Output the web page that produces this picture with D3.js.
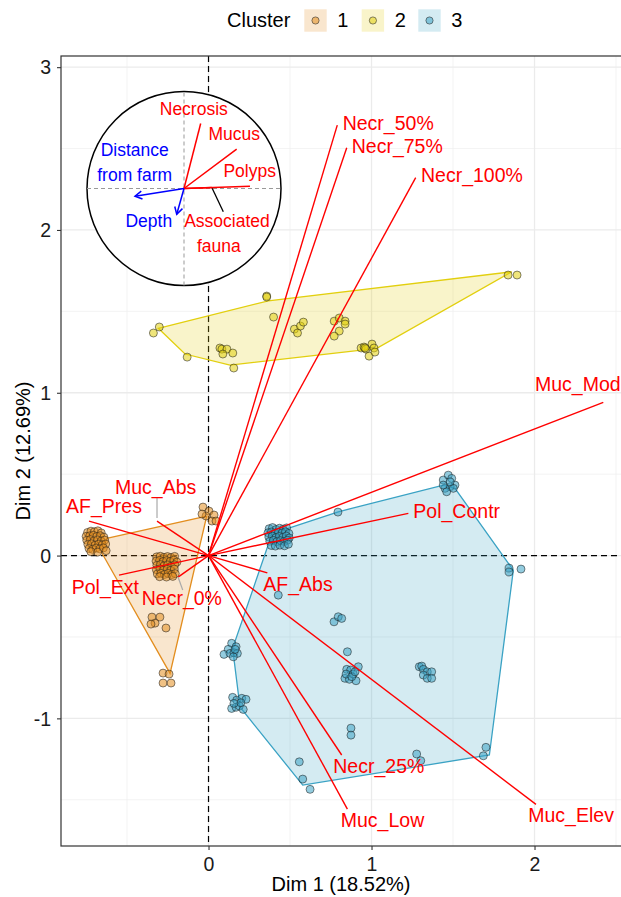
<!DOCTYPE html>
<html>
<head>
<meta charset="utf-8">
<script src="https://cdn.jsdelivr.net/npm/d3@7"></script>
<style>
  body { margin: 0; background: #fff; }
  svg { display: block; }
  text { font-family: "Liberation Sans", Arial, Helvetica, sans-serif; }
</style>
</head>
<body>
<svg id="chart" width="621" height="897"></svg>
<script>
// ---------- data ----------
const clusterIds = ["1", "2", "3"];
const clusterColors = ["#E38E1F", "#E2CF0E", "#3AA2C4"];

// site scores on Dim 1 / Dim 2 (jittered), per cluster
const cluster1Points = [
  [-0.742,0.142],[-0.721,0.150],[-0.700,0.146],[-0.679,0.152],[-0.658,0.139],
  [-0.751,0.118],[-0.729,0.121],[-0.707,0.125],[-0.686,0.117],[-0.664,0.122],[-0.642,0.113],
  [-0.747,0.094],[-0.725,0.098],[-0.703,0.090],[-0.681,0.096],[-0.659,0.089],[-0.637,0.095],
  [-0.740,0.068],[-0.718,0.072],[-0.696,0.064],[-0.674,0.070],[-0.652,0.066],[-0.631,0.071],
  [-0.733,0.043],[-0.711,0.038],[-0.689,0.046],[-0.667,0.041],[-0.645,0.047],
  [-0.722,0.024],[-0.680,0.021],[-0.628,0.030],
  [-0.318,-0.008],[-0.296,-0.004],[-0.274,-0.011],[-0.252,-0.006],[-0.230,-0.012],[-0.208,-0.005],
  [-0.322,-0.034],[-0.300,-0.029],[-0.279,-0.037],[-0.257,-0.031],[-0.235,-0.036],[-0.213,-0.028],[-0.194,-0.040],
  [-0.317,-0.060],[-0.295,-0.056],[-0.273,-0.063],[-0.251,-0.058],[-0.229,-0.065],[-0.207,-0.057],
  [-0.320,-0.087],[-0.298,-0.082],[-0.276,-0.090],[-0.254,-0.084],[-0.232,-0.091],[-0.210,-0.083],
  [-0.314,-0.113],[-0.292,-0.109],[-0.270,-0.116],[-0.248,-0.110],[-0.226,-0.117],[-0.204,-0.111],
  [-0.300,-0.130],[-0.258,-0.132],[-0.219,-0.128],
  [-0.034,0.298],[0.003,0.273],[0.034,0.249],[-0.015,0.243],[0.021,0.212],[0.046,0.212],[-0.040,0.255],
  [-0.347,-0.378],[-0.298,-0.378],[-0.328,-0.415],[-0.353,-0.421],[-0.261,-0.445],
  [-0.279,-0.722],[-0.242,-0.728],[-0.279,-0.783],[-0.230,-0.783]
];
const cluster2Points = [
  [-0.338,1.367],[-0.302,1.404],[-0.131,1.219],
  [0.070,1.275],[0.082,1.268],[0.113,1.268],[0.088,1.238],[0.149,1.244],[0.155,1.152],
  [0.357,1.594],[0.357,1.588],[0.399,1.465],
  [0.527,1.391],[0.546,1.367],[0.564,1.410],[0.582,1.434],
  [0.771,1.440],[0.802,1.459],[0.838,1.440],[0.838,1.422],[0.802,1.379],[0.771,1.348],
  [0.936,1.275],[0.954,1.281],[0.966,1.268],[0.985,1.225],[1.003,1.299],[1.015,1.275],[1.021,1.250],[0.960,1.275],
  [1.838,1.723],[1.893,1.723]
];
const cluster3Points = [
  [0.372,0.165],[0.393,0.172],[0.415,0.160],[0.436,0.168],[0.458,0.162],[0.479,0.170],
  [0.365,0.140],[0.386,0.145],[0.408,0.137],[0.429,0.143],[0.451,0.139],[0.472,0.146],[0.493,0.136],
  [0.370,0.114],[0.391,0.119],[0.413,0.110],[0.434,0.117],[0.456,0.112],[0.477,0.120],[0.495,0.108],
  [0.376,0.088],[0.398,0.093],[0.419,0.085],[0.441,0.091],[0.462,0.086],[0.484,0.094],
  [0.385,0.062],[0.410,0.058],[0.438,0.064],[0.466,0.060],[0.490,0.070],
  [0.794,0.267],
  [1.440,0.464],[1.471,0.494],[1.492,0.474],[1.512,0.433],[1.482,0.423],
  [1.451,0.413],[1.461,0.392],[1.502,0.413],[1.440,0.433],[1.482,0.453],
  [1.844,-0.077],[1.844,-0.101],[1.917,-0.083],
  [0.428,-0.243],
  [0.770,-0.407],[0.796,-0.376],[0.817,-0.386],
  [0.852,-0.591],
  [0.848,-0.699],[0.872,-0.703],[0.919,-0.683],[0.837,-0.754],[0.864,-0.760],
  [0.905,-0.769],[0.844,-0.728],[0.888,-0.728],[0.879,-0.744],[0.899,-0.714],
  [1.293,-0.683],[1.308,-0.679],[1.318,-0.699],[1.342,-0.714],[1.369,-0.714],
  [1.318,-0.734],[1.342,-0.754],[1.369,-0.754],
  [0.142,-0.539],[0.169,-0.560],[0.121,-0.576],[0.095,-0.607],[0.132,-0.601],
  [0.156,-0.597],[0.177,-0.601],[0.152,-0.622],[0.163,-0.576],
  [0.148,-0.871],[0.173,-0.888],[0.204,-0.877],[0.230,-0.883],[0.142,-0.939],
  [0.169,-0.932],[0.189,-0.924],[0.213,-0.945],[0.198,-0.904],[0.156,-0.908],
  [0.874,-1.060],[0.874,-1.103],
  [0.557,-1.267],[0.578,-1.373],[0.623,-1.436],
  [1.277,-1.219],[1.302,-1.260],
  [1.702,-1.178],[1.686,-1.230]
];

// convex hulls of the (unjittered) cluster scores
const cluster1Hull = [[-0.625,0.106],[-0.011,0.243],[-0.236,-0.724],[-0.655,0.017]];
const cluster2Hull = [[-0.308,1.396],[0.367,1.565],[1.860,1.743],[1.032,1.273],[0.132,1.170],[-0.144,1.238]];
const cluster3Hull = [[0.390,0.135],[0.796,0.269],[1.441,0.433],[1.512,0.413],[1.870,-0.090],
                      [1.723,-1.225],[0.578,-1.410],[0.193,-0.930],[0.148,-0.570]];

// variable coordinates (arrows from the origin)
const varNames = ["Necr_0%","Necr_25%","Necr_50%","Necr_75%","Necr_100%",
                  "Muc_Abs","Muc_Low","Muc_Mod","Muc_Elev",
                  "Pol_Ext","Pol_Contr","AF_Abs","AF_Pres"];
const varDim1 = [-0.187, 0.817, 0.790, 0.848, 1.271, -0.316, 0.852, 2.422, 2.009, -0.549, 1.226, 0.361, -0.733];
const varDim2 = [-0.132, -1.225, 2.644, 2.505, 2.321, 0.212, -1.557, 0.941, -1.528, -0.120, 0.259, -0.106, 0.212];

// correlation circle of the grouped descriptors
const insetNames = ["Necrosis","Mucus","Polyps","Associated fauna","Distance from farm","Depth"];
const insetDim1 = [0.172, 0.543, 0.680, 0.286, -0.505, -0.075];
const insetDim2 = [0.670, 0.405, 0.024, 0.010, -0.079, -0.265];
const insetRole = ["response","response","response","response","explanatory","explanatory"];

const xTicks = [0, 1, 2];
const yTicks = [-1, 0, 1, 2, 3];
const xMinor = [-0.5, 0.5, 1.5, 2.5];
const yMinor = [-1.5, -0.5, 0.5, 1.5, 2.5];
const xTitle = "Dim 1 (18.52%)";
const yTitle = "Dim 2 (12.69%)";
const legendTitle = "Cluster";

// ---------- layout ----------
const panel = { left: 61, right: 622, top: 56, bottom: 846 };
const red = "#FF0000", blue = "#0000FF";
const labelSize = 19.5, insetLabelSize = 17.5, tickSize = 19.5, titleSize = 20;
const pointRadius = 4;

// label placement (pixel offset of text start/baseline from the arrow tip) and optional leader
const varLabelLayout = {
  "Necr_0%":   { dx: -36.3, dy: 28,   seg: [4.7, 13] },
  "Necr_25%":  { dx: -8.4,  dy: 18.3 },
  "Necr_50%":  { dx: 5.4,   dy: 4.5 },
  "Necr_75%":  { dx: 5,     dy: 5 },
  "Necr_100%": { dx: 5.3,   dy: 4.6 },
  "Muc_Abs":   { dx: -42,   dy: -27,  seg: [0, -24] },
  "Muc_Low":   { dx: -6.6,  dy: 18.3 },
  "Muc_Mod":   { dx: -68.3, dy: -11.3 },
  "Muc_Elev":  { dx: -7.7,  dy: 18 },
  "Pol_Ext":   { dx: -47.3, dy: 19 },
  "Pol_Contr": { dx: 5,     dy: 5 },
  "AF_Abs":    { dx: -4,    dy: 18 },
  "AF_Pres":   { dx: -23,   dy: -7.7 }
};

const inset = { cx: 184, cy: 188.5, r: 97 };
const insetLabelLayout = {
  "Necrosis":           { lines: ["Necrosis"], dx: 9.8, dy: -73.5 },
  "Mucus":              { lines: ["Mucus"], dx: 50.2, dy: -48.5 },
  "Polyps":             { lines: ["Polyps"], dx: 65.7, dy: -11.8 },
  "Associated fauna":   { lines: ["Associated", "fauna"], dx: 43, dy: 38.8, ldx: [0, -8.2],
                          seg: [[211.7 - 184, 187.3 - 188.5], [223.3 - 184, 211.7 - 188.5]] },
  "Distance from farm": { lines: ["Distance", "from farm"], dx: -49.3, dy: -32.5, ldx: [0, 0] },
  "Depth":              { lines: ["Depth"], dx: -35.2, dy: 38.8 }
};

// ---------- scales ----------
const x = d3.scaleLinear().domain([-0.905, -0.905 + (panel.right - panel.left) / 163])
  .range([panel.left, panel.right]);
const y = d3.scaleLinear().domain([-1.784, -1.784 + (panel.bottom - panel.top) / 162.8])
  .range([panel.bottom, panel.top]);

const svg = d3.select("#chart");
svg.append("rect").attr("width", 621).attr("height", 897).attr("fill", "#fff");

const clip = svg.append("defs").append("clipPath").attr("id", "panelClip");
clip.append("rect").attr("x", panel.left).attr("y", panel.top)
  .attr("width", panel.right - panel.left).attr("height", panel.bottom - panel.top);

const plot = svg.append("g").attr("clip-path", "url(#panelClip)");

// grid
const grid = plot.append("g");
grid.selectAll(".gxm").data(xMinor).join("line")
  .attr("x1", d => x(d)).attr("x2", d => x(d)).attr("y1", panel.top).attr("y2", panel.bottom)
  .attr("stroke", "#EEEEEE").attr("stroke-width", 0.7);
grid.selectAll(".gym").data(yMinor).join("line")
  .attr("y1", d => y(d)).attr("y2", d => y(d)).attr("x1", panel.left).attr("x2", panel.right)
  .attr("stroke", "#EEEEEE").attr("stroke-width", 0.7);
grid.selectAll(".gx").data(xTicks).join("line")
  .attr("x1", d => x(d)).attr("x2", d => x(d)).attr("y1", panel.top).attr("y2", panel.bottom)
  .attr("stroke", "#EBEBEB").attr("stroke-width", 1.3);
grid.selectAll(".gy").data(yTicks).join("line")
  .attr("y1", d => y(d)).attr("y2", d => y(d)).attr("x1", panel.left).attr("x2", panel.right)
  .attr("stroke", "#EBEBEB").attr("stroke-width", 1.3);

// reference lines through the origin
plot.append("line").attr("x1", panel.left).attr("x2", panel.right).attr("y1", y(0)).attr("y2", y(0))
  .attr("stroke", "#000").attr("stroke-width", 1.2).attr("stroke-dasharray", "6,4");
plot.append("line").attr("y1", panel.top).attr("y2", panel.bottom).attr("x1", x(0)).attr("x2", x(0))
  .attr("stroke", "#000").attr("stroke-width", 1.2).attr("stroke-dasharray", "6,4");

// hulls
const hulls = [cluster1Hull, cluster2Hull, cluster3Hull];
const hullLine = d3.line().x(d => x(d[0])).y(d => y(d[1])).curve(d3.curveLinearClosed);
plot.selectAll(".hull").data(hulls).join("path")
  .attr("d", d => hullLine(d))
  .attr("fill", (d, i) => clusterColors[i]).attr("fill-opacity", 0.22)
  .attr("stroke", (d, i) => clusterColors[i]).attr("stroke-width", 1.3);

// points
const pointSets = [cluster1Points, cluster2Points, cluster3Points];
pointSets.forEach((pts, i) => {
  plot.append("g").selectAll("circle").data(pts).join("circle")
    .attr("cx", d => x(d[0])).attr("cy", d => y(d[1])).attr("r", pointRadius)
    .attr("fill", clusterColors[i]).attr("fill-opacity", 0.55)
    .attr("stroke", "#1a1a1a").attr("stroke-opacity", 0.65).attr("stroke-width", 0.8);
});

// variable arrows
const vars = varNames.map((n, i) => ({ name: n, d1: varDim1[i], d2: varDim2[i] }));
plot.append("g").selectAll("line").data(vars).join("line")
  .attr("x1", x(0)).attr("y1", y(0))
  .attr("x2", d => x(d.d1)).attr("y2", d => y(d.d2))
  .attr("stroke", red).attr("stroke-width", 1.4);

// leaders for displaced labels
plot.append("g").selectAll("line").data(vars.filter(d => varLabelLayout[d.name].seg)).join("line")
  .attr("x1", d => x(d.d1)).attr("y1", d => y(d.d2) - (varLabelLayout[d.name].seg[1] < 0 ? 3 : 0))
  .attr("x2", d => x(d.d1) + varLabelLayout[d.name].seg[0])
  .attr("y2", d => y(d.d2) + varLabelLayout[d.name].seg[1])
  .attr("stroke", "#AAAAAA").attr("stroke-width", 1.2);

// variable labels
svg.append("g").selectAll("text").data(vars).join("text")
  .attr("x", d => x(d.d1) + varLabelLayout[d.name].dx)
  .attr("y", d => y(d.d2) + varLabelLayout[d.name].dy)
  .attr("fill", red).attr("font-size", labelSize)
  .text(d => d.name);

// ---------- inset correlation circle ----------
const ix = d3.scaleLinear().domain([-1, 1]).range([inset.cx - inset.r, inset.cx + inset.r]);
const iy = d3.scaleLinear().domain([-1, 1]).range([inset.cy + inset.r, inset.cy - inset.r]);
const ig = svg.append("g");
ig.append("circle").attr("cx", ix(0)).attr("cy", iy(0)).attr("r", inset.r)
  .attr("fill", "#fff").attr("stroke", "#000").attr("stroke-width", 1.5);
ig.append("line").attr("x1", ix(-1)).attr("x2", ix(1)).attr("y1", iy(0)).attr("y2", iy(0))
  .attr("stroke", "#999").attr("stroke-width", 1).attr("stroke-dasharray", "4,3");
ig.append("line").attr("y1", iy(-1)).attr("y2", iy(1)).attr("x1", ix(0)).attr("x2", ix(0))
  .attr("stroke", "#999").attr("stroke-width", 1).attr("stroke-dasharray", "4,3");

const insetVars = insetNames.map((n, i) => ({ name: n, d1: insetDim1[i], d2: insetDim2[i], role: insetRole[i] }));
const roleColor = r => r === "response" ? red : blue;

// leader for the fauna label
insetVars.filter(d => insetLabelLayout[d.name].seg).forEach(d => {
  const s = insetLabelLayout[d.name].seg;
  ig.append("line")
    .attr("x1", inset.cx + s[0][0]).attr("y1", inset.cy + s[0][1])
    .attr("x2", inset.cx + s[1][0]).attr("y2", inset.cy + s[1][1])
    .attr("stroke", "#000").attr("stroke-width", 1.3);
});

ig.selectAll(".iv").data(insetVars).join("line")
  .attr("x1", ix(0)).attr("y1", iy(0))
  .attr("x2", d => ix(d.d1)).attr("y2", d => iy(d.d2))
  .attr("stroke", d => roleColor(d.role)).attr("stroke-width", 1.5);

// open arrow heads on the explanatory vectors
insetVars.filter(d => d.role === "explanatory").forEach(d => {
  const tx = ix(d.d1), ty = iy(d.d2);
  const ang = Math.atan2(ty - iy(0), tx - ix(0));
  const L = 8, a = Math.PI / 6;
  const p1 = [tx - L * Math.cos(ang - a), ty - L * Math.sin(ang - a)];
  const p2 = [tx - L * Math.cos(ang + a), ty - L * Math.sin(ang + a)];
  ig.append("path")
    .attr("d", `M${p1[0]},${p1[1]}L${tx},${ty}L${p2[0]},${p2[1]}`)
    .attr("fill", "none").attr("stroke", blue).attr("stroke-width", 1.5);
});

insetVars.forEach(d => {
  const lay = insetLabelLayout[d.name];
  const t = ig.append("text").attr("text-anchor", "middle")
    .attr("font-size", insetLabelSize).attr("fill", roleColor(d.role));
  lay.lines.forEach((ln, k) => {
    t.append("tspan")
      .attr("x", inset.cx + lay.dx + (lay.ldx ? lay.ldx[k] : 0))
      .attr("y", inset.cy + lay.dy + k * 24.5)
      .text(ln);
  });
});

// ---------- panel border and axes ----------
svg.append("rect").attr("x", panel.left).attr("y", panel.top)
  .attr("width", panel.right - panel.left).attr("height", panel.bottom - panel.top)
  .attr("fill", "none").attr("stroke", "#333").attr("stroke-width", 1.2);

const xAxis = svg.append("g").attr("transform", `translate(0,${panel.bottom})`)
  .call(d3.axisBottom(x).tickValues(xTicks).tickFormat(d3.format("d")).tickSize(4).tickPadding(4));
const yAxis = svg.append("g").attr("transform", `translate(${panel.left},0)`)
  .call(d3.axisLeft(y).tickValues(yTicks).tickFormat(d3.format("d")).tickSize(4).tickPadding(4));
[xAxis, yAxis].forEach(a => {
  a.select(".domain").remove();
  a.selectAll(".tick line").attr("stroke", "#333").attr("stroke-width", 1.1);
  a.selectAll(".tick text").attr("fill", "#1a1a1a").attr("font-size", tickSize)
    .attr("font-family", "\"Liberation Sans\", Arial, sans-serif");
});
xAxis.selectAll(".tick text").attr("dy", "0.85em");
yAxis.selectAll(".tick text").attr("text-anchor", "end").attr("dx", "-0.1em").attr("dy", "0.35em")
  .text(d => d < 0 ? "-" + Math.abs(d) : d);

svg.append("text").attr("x", (panel.left + 621) / 2).attr("y", 891)
  .attr("text-anchor", "middle").attr("font-size", titleSize).attr("fill", "#000").text(xTitle);
svg.append("text").attr("transform", `translate(30,${(panel.top + panel.bottom) / 2}) rotate(-90)`)
  .attr("text-anchor", "middle").attr("font-size", titleSize).attr("fill", "#000").text(yTitle);

// ---------- legend ----------
const lg = svg.append("g");
lg.append("text").attr("x", 227).attr("y", 27).attr("font-size", titleSize).attr("fill", "#000").text(legendTitle);
const keyX = [304.3, 361.7, 418.3];
clusterIds.forEach((id, i) => {
  lg.append("rect").attr("x", keyX[i]).attr("y", 9.3).attr("width", 22.4).attr("height", 22.4)
    .attr("fill", clusterColors[i]).attr("fill-opacity", 0.22);
  lg.append("circle").attr("cx", keyX[i] + 11.2).attr("cy", 20.5).attr("r", 3.6)
    .attr("fill", clusterColors[i]).attr("fill-opacity", 0.55)
    .attr("stroke", "#1a1a1a").attr("stroke-opacity", 0.65).attr("stroke-width", 0.8);
  lg.append("text").attr("x", keyX[i] + 33).attr("y", 27).attr("font-size", titleSize)
    .attr("fill", "#000").text(id);
});
</script>
</body>
</html>
